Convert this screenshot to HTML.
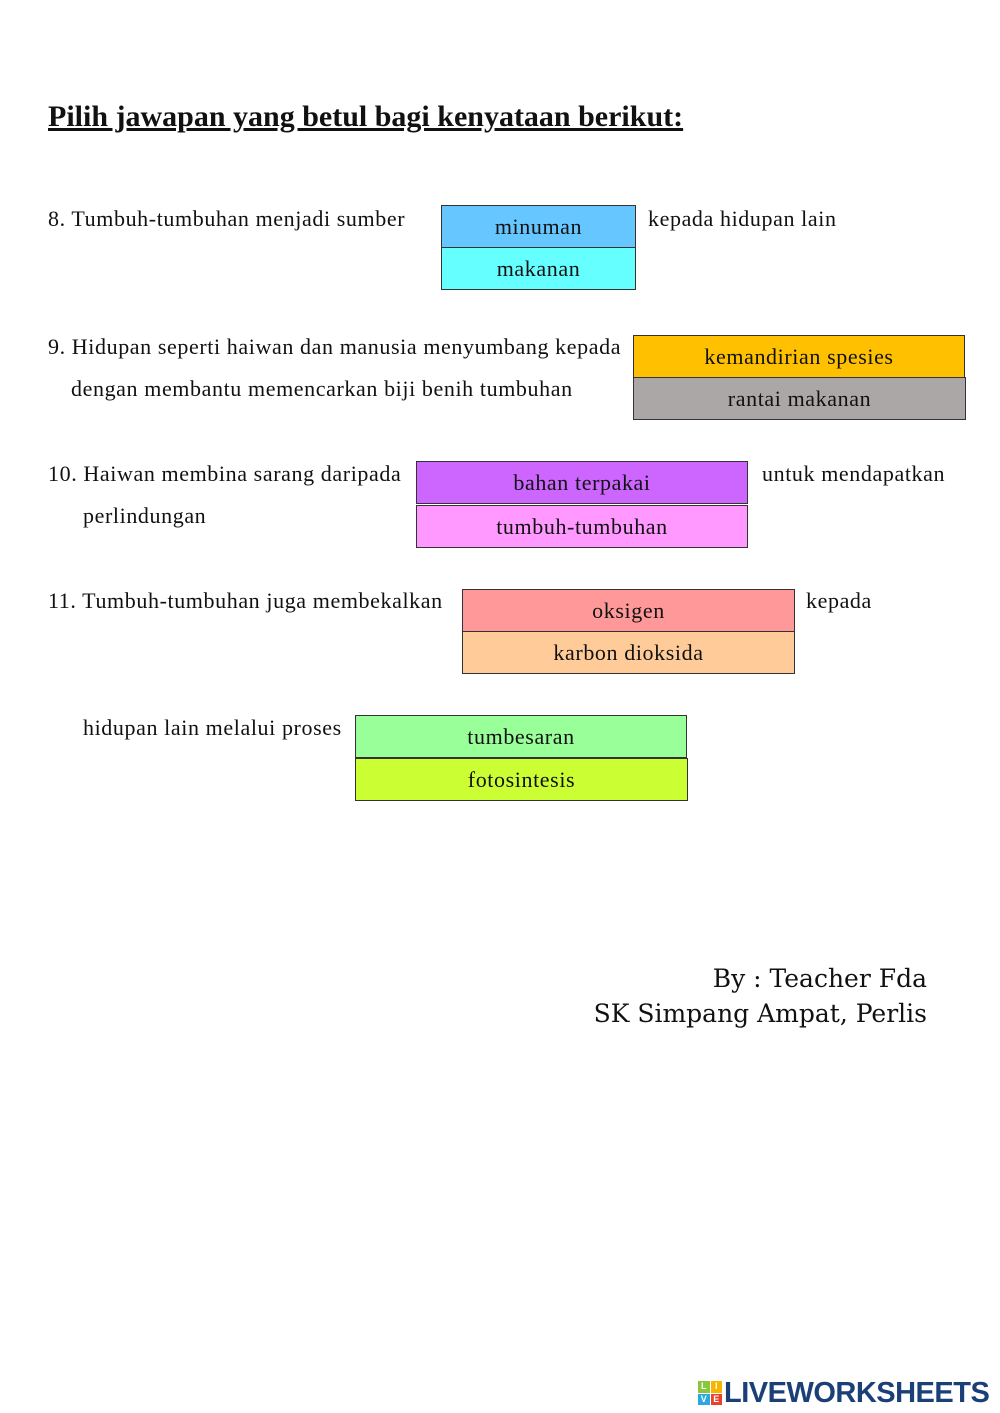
<!DOCTYPE html>
<html><head><meta charset="utf-8"><style>
body{margin:0;background:#fff;}
#p{position:relative;width:1000px;height:1413px;overflow:hidden;font-family:"Liberation Serif",serif;color:#111;}
.t{position:absolute;font-size:22px;letter-spacing:0.6px;line-height:24px;white-space:nowrap;}
.b{position:absolute;box-sizing:border-box;border:1px solid #333;display:flex;align-items:center;justify-content:center;font-size:22px;letter-spacing:0.6px;padding-top:1px;color:#111;}
</style></head><body><div id="p">
<div class="t" style="left:48px;top:101px;font-size:30px;letter-spacing:0;line-height:32px;font-weight:bold;text-decoration:underline;">Pilih jawapan yang betul bagi kenyataan berikut:</div>

<div class="t" style="left:48px;top:207px;">8. Tumbuh-tumbuhan menjadi sumber</div>
<div class="b" style="left:441px;top:205px;width:195px;height:43px;background:#66c6ff;">minuman</div>
<div class="b" style="left:441px;top:247px;width:195px;height:43px;background:#66ffff;">makanan</div>
<div class="t" style="left:648px;top:207px;">kepada hidupan lain</div>

<div class="t" style="left:48px;top:335px;">9. Hidupan seperti haiwan dan manusia menyumbang kepada</div>
<div class="t" style="left:71px;top:377px;">dengan membantu memencarkan biji benih tumbuhan</div>
<div class="b" style="left:633px;top:335px;width:332px;height:43px;background:#ffc000;">kemandirian spesies</div>
<div class="b" style="left:633px;top:377px;width:333px;height:43px;background:#aba7a7;">rantai makanan</div>

<div class="t" style="left:48px;top:462px;">10. Haiwan membina sarang daripada</div>
<div class="t" style="left:83px;top:504px;">perlindungan</div>
<div class="b" style="left:416px;top:461px;width:332px;height:43px;background:#cc66ff;">bahan terpakai</div>
<div class="b" style="left:416px;top:505px;width:332px;height:43px;background:#ff99ff;">tumbuh-tumbuhan</div>
<div class="t" style="left:762px;top:462px;">untuk mendapatkan</div>

<div class="t" style="left:48px;top:589px;">11. Tumbuh-tumbuhan juga membekalkan</div>
<div class="b" style="left:462px;top:589px;width:333px;height:43px;background:#ff9999;">oksigen</div>
<div class="b" style="left:462px;top:631px;width:333px;height:43px;background:#ffcc99;">karbon dioksida</div>
<div class="t" style="left:806px;top:589px;">kepada</div>

<div class="t" style="left:83px;top:716px;">hidupan lain melalui proses</div>
<div class="b" style="left:355px;top:715px;width:332px;height:43px;background:#99ff99;">tumbesaran</div>
<div class="b" style="left:355px;top:758px;width:333px;height:43px;background:#ccff33;">fotosintesis</div>

<div class="t" style="right:73px;top:964px;font-family:'DejaVu Serif',serif;font-size:25px;letter-spacing:0;line-height:30px;text-align:right;">By : Teacher Fda</div>
<div class="t" style="right:73px;top:999px;font-family:'DejaVu Serif',serif;font-size:25px;letter-spacing:0;line-height:30px;text-align:right;">SK Simpang Ampat, Perlis</div>

<div style="position:absolute;left:698px;top:1381px;width:24px;height:24px;display:grid;grid-template-columns:1fr 1fr;gap:1px;font:bold 9px 'Liberation Sans',sans-serif;color:#fff;text-align:center;line-height:11px;">
<span style="background:#8cc63f">L</span><span style="background:#f7b500">I</span><span style="background:#29a9e0">V</span><span style="background:#e8412c">E</span></div>
<div class="t" style="left:724px;top:1377px;font-family:'Liberation Sans',sans-serif;font-weight:bold;font-size:29px;line-height:32px;color:#1b3f77;letter-spacing:-0.5px;">LIVEWORKSHEETS</div>
</div></body></html>
